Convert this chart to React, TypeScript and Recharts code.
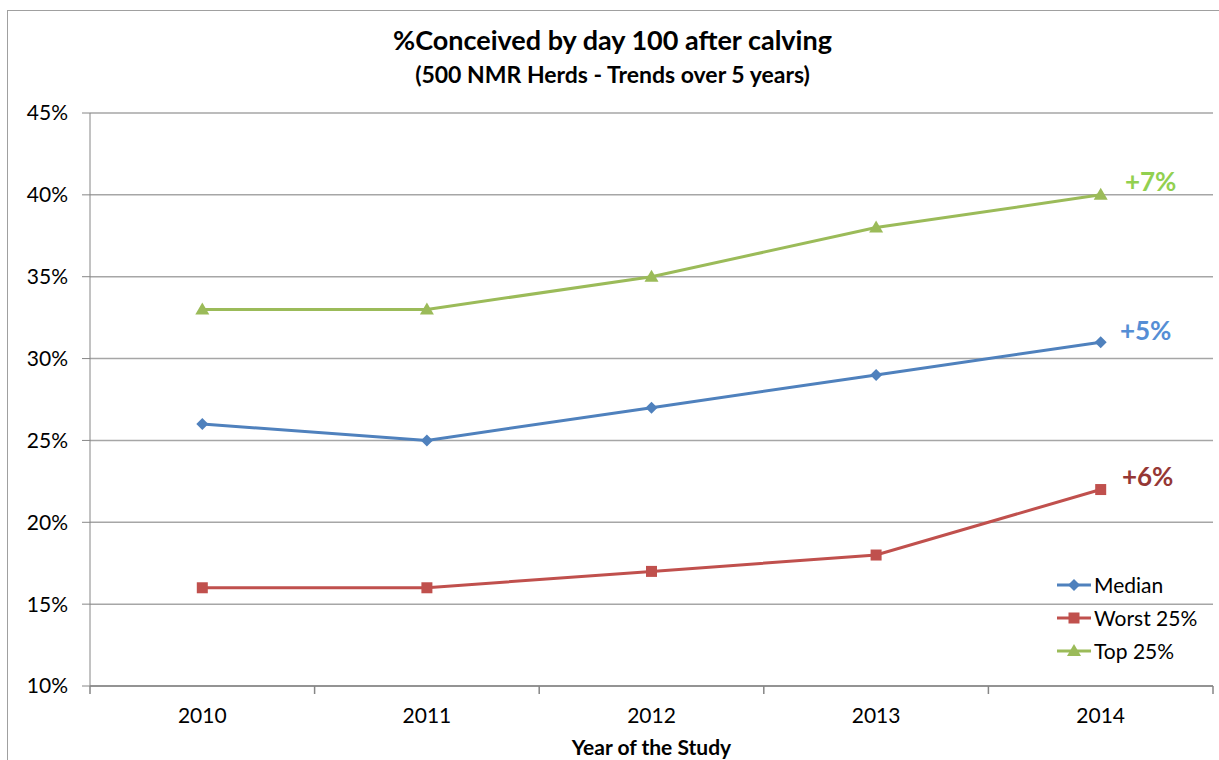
import React from 'react';
import { LineChart, Line, XAxis, YAxis, CartesianGrid, LabelList } from 'recharts';

const years = ['2010', '2011', '2012', '2013', '2014'];
const median = [26, 25, 27, 29, 31];
const worst25 = [16, 16, 17, 18, 22];
const top25 = [33, 33, 35, 38, 40];
const yTicks = [10, 15, 20, 25, 30, 35, 40, 45];

const data = years.map((year, i) => ({ year, median: median[i], worst: worst25[i], top: top25[i] }));

const FONT = 'Lato, "Open Sans", "DejaVu Sans", sans-serif';
const W = 1219;
const H = 760;
const PLOT_LEFT = 90;
const PLOT_RIGHT = 6;
const BAND = (W - PLOT_LEFT - PLOT_RIGHT) / years.length;

const series = [
  { key: 'median', name: 'Median', color: '#4f81bd', shape: 'diamond', note: '+5%', noteColor: '#558ed5', dx: 45, dy: -12 },
  { key: 'worst', name: 'Worst 25%', color: '#c0504d', shape: 'square', note: '+6%', noteColor: '#953735', dx: 47, dy: -14 },
  { key: 'top', name: 'Top 25%', color: '#9bbb59', shape: 'triangle', note: '+7%', noteColor: '#92d050', dx: 50, dy: -14 },
];

const Marker = ({ cx, cy, shape, color }: any) => {
  if (cx == null || cy == null) return null;
  if (shape === 'diamond')
    return <path d={`M${cx},${cy - 6}L${cx + 6},${cy}L${cx},${cy + 6}L${cx - 6},${cy}Z`} fill={color} />;
  if (shape === 'square') return <rect x={cx - 5.5} y={cy - 5.5} width={11} height={11} fill={color} />;
  return <path d={`M${cx},${cy - 7}L${cx + 7},${cy + 5}L${cx - 7},${cy + 5}Z`} fill={color} />;
};

const YearTick = ({ x, y, payload, index }: any) => (
  <g>
    <line x1={x - BAND / 2} y1={y} x2={x - BAND / 2} y2={y + 8} stroke="#868686" strokeWidth={1.5} />
    {index === years.length - 1 && (
      <line x1={x + BAND / 2} y1={y} x2={x + BAND / 2} y2={y + 8} stroke="#868686" strokeWidth={1.5} />
    )}
    <text x={x} y={y + 37} textAnchor="middle" fontSize={21} fontFamily={FONT} fill="#000">
      {payload.value}
    </text>
  </g>
);

const LegendBox = () => (
  <div style={{ position: 'absolute', left: 1056, top: 568, fontFamily: FONT, fontSize: 21, color: '#000' }}>
    {series.map((s) => (
      <div key={s.key} style={{ display: 'flex', alignItems: 'center', height: 33 }}>
        <svg width={36} height={16} style={{ marginRight: 2 }}>
          <line x1={1} y1={8} x2={35} y2={8} stroke={s.color} strokeWidth={3} />
          <Marker cx={18} cy={8} shape={s.shape} color={s.color} />
        </svg>
        <span>{s.name}</span>
      </div>
    ))}
  </div>
);

export default function App() {
  return (
    <div style={{ position: 'absolute', left: 0, top: 0, width: W, height: H, background: '#fff', overflow: 'hidden' }}>
      <div
        style={{
          position: 'absolute', left: 7, top: 10, width: W, height: H,
          border: '1px solid #a0a0a0', boxSizing: 'border-box',
        }}
      />
      <div style={{ position: 'absolute', left: 0, width: W + 6, top: 23, textAlign: 'center', fontFamily: FONT, fontWeight: 700, fontSize: 27, color: '#000' }}>
        %Conceived by day 100 after calving
      </div>
      <div style={{ position: 'absolute', left: 0, width: W + 6, top: 60, textAlign: 'center', fontFamily: FONT, fontWeight: 700, fontSize: 23, color: '#000' }}>
        (500 NMR Herds - Trends over 5 years)
      </div>
      <div style={{ position: 'absolute', left: 0, top: 0 }}>
        <LineChart width={W} height={H} data={data} margin={{ top: 113, right: PLOT_RIGHT, bottom: 0, left: 0 }}>
          <CartesianGrid vertical={false} stroke="#a6a6a6" strokeWidth={1.5} />
          <XAxis
            dataKey="year"
            tick={<YearTick />}
            tickLine={false}
            tickSize={0}
            tickMargin={0}
            axisLine={{ stroke: '#868686', strokeWidth: 1.5 }}
            padding={{ left: BAND / 2, right: BAND / 2 }}
            height={74}
            interval={0}
            label={{ value: 'Year of the Study', position: 'insideBottom', offset: 5, fontSize: 21, fontWeight: 700, fontFamily: FONT, fill: '#000' }}
          />
          <YAxis
            width={PLOT_LEFT}
            domain={[10, 45]}
            ticks={yTicks}
            interval={0}
            tickFormatter={(v: number) => `${v}%`}
            tickSize={8}
            tickMargin={14}
            tick={{ fontSize: 21, fontFamily: FONT, fill: '#000' }}
            stroke="#868686"
          />
          {series.map((s) => (
            <Line
              key={s.key}
              dataKey={s.key}
              name={s.name}
              stroke={s.color}
              strokeWidth={3}
              isAnimationActive={false}
              dot={(p: any) => <Marker key={`${s.key}-${p.index}`} cx={p.cx} cy={p.cy} shape={s.shape} color={s.color} />}
              activeDot={false}
            >
              <LabelList
                dataKey={s.key}
                content={(p: any) =>
                  p.index === years.length - 1 ? (
                    <text
                      x={p.x + s.dx}
                      y={p.y + s.dy}
                      textAnchor="middle"
                      dominantBaseline="central"
                      fontSize={26}
                      fontWeight={700}
                      fontFamily={FONT}
                      fill={s.noteColor}
                    >
                      {s.note}
                    </text>
                  ) : null
                }
              />
            </Line>
          ))}
        </LineChart>
      </div>
      <LegendBox />
    </div>
  );
}
